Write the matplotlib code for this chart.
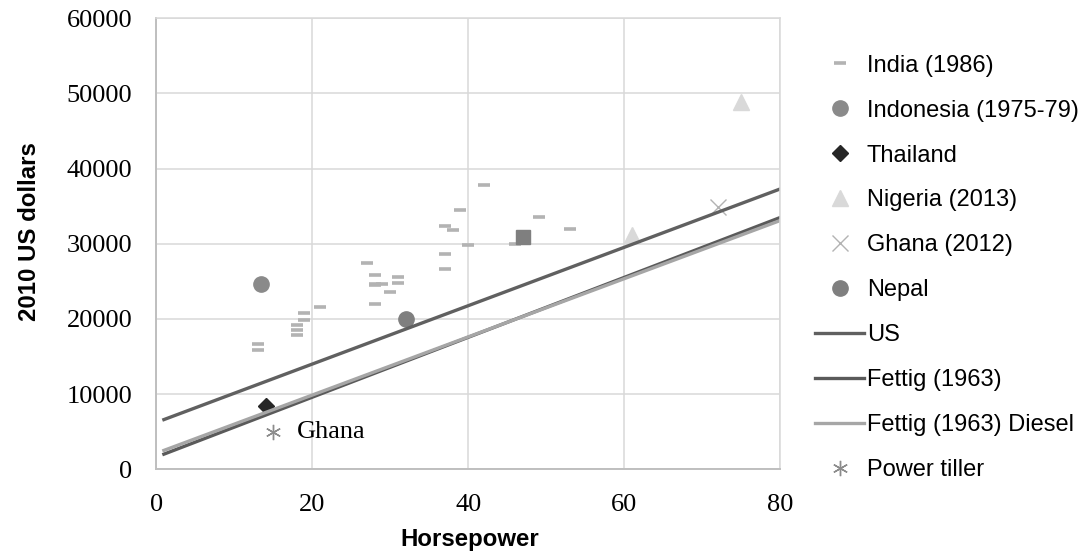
import matplotlib
matplotlib.use("Agg")
import matplotlib.pyplot as plt

# India (1986) survey points: horsepower, 2010 US dollars
india_hp = [13, 13, 18, 18, 18, 19, 19, 21, 28, 28, 28, 28, 29, 30, 31, 31,
            27, 37, 37, 37, 38, 39, 40, 42, 46, 49, 53]
india_usd = [16600, 15800, 19200, 18500, 17900, 20800, 19800, 21600, 25800, 24700,
             24500, 22000, 24600, 23600, 25600, 24800, 27400, 32400, 28600, 26600,
             31800, 34500, 29800, 37800, 29900, 33600, 31900]

indonesia_hp = [13.5]
indonesia_usd = [24700]

thailand_hp = [14.1]
thailand_usd = [8400]

nigeria_hp = [61, 75]
nigeria_usd = [31100, 48900]

ghana_hp = [72]
ghana_usd = [34900]

nepal_hp = [32]
nepal_usd = [20000]

other_hp = [47]
other_usd = [30900]

# trend lines (end points)
line_hp = [1, 80]
us_usd = [6600, 37300]
fettig_usd = [2000, 33500]
fettig_diesel_usd = [2500, 33100]

tiller_hp = [15]
tiller_usd = [4900]

serif = "Liberation Serif"
sans = "Liberation Sans"

fig = plt.figure(figsize=(10.84, 5.52), dpi=100)
ax = fig.add_axes([0.144, 0.150, 0.576, 0.817])

ax.plot(india_hp, india_usd, ls="none", marker="_", ms=8.5, mew=2.6,
        color="#b3b3b3", label="India (1986)")
ax.plot(indonesia_hp, indonesia_usd, ls="none", marker="o", ms=11,
        color="#8a8a8a", label="Indonesia (1975-79)")
ax.plot(thailand_hp, thailand_usd, ls="none", marker="D", ms=8,
        color="#262626", label="Thailand")
ax.plot(nigeria_hp, nigeria_usd, ls="none", marker="^", ms=11,
        color="#d9d9d9", label="Nigeria (2013)")
ax.plot(ghana_hp, ghana_usd, ls="none", marker="x", ms=11, mew=1,
        color="#b3b3b3", label="Ghana (2012)")
ax.plot(nepal_hp, nepal_usd, ls="none", marker="o", ms=11,
        color="#7f7f7f", label="Nepal")
ax.plot(other_hp, other_usd, ls="none", marker="s", ms=10,
        color="#7f7f7f")
ax.plot(line_hp, us_usd, color="#606060", lw=2.4, label="US")
ax.plot(line_hp, fettig_usd, color="#5a5a5a", lw=2.4, label="Fettig (1963)")
ax.plot(line_hp, fettig_diesel_usd, color="#a6a6a6", lw=2.4,
        label="Fettig (1963) Diesel")
ax.plot(tiller_hp, tiller_usd, ls="none", marker=(6, 2, 0), ms=11, mew=1,
        color="#8c8c8c", label="Power tiller")

ax.text(18, 4900, "Ghana", family=serif, fontsize=19, va="center", ha="left")

ax.set_xlim(0, 80)
ax.set_ylim(0, 60000)
ax.set_xticks([0, 20, 40, 60, 80])
ax.set_yticks(range(0, 60001, 10000))
ax.grid(True, color="#d9d9d9", lw=1.1)
ax.set_axisbelow(True)
ax.tick_params(axis="y", length=0, pad=17, labelsize=19)
ax.tick_params(axis="x", length=0, pad=18, labelsize=19)
for lab in ax.get_xticklabels() + ax.get_yticklabels():
    lab.set_family(serif)

for side in ["top", "right"]:
    ax.spines[side].set_color("#d9d9d9")
    ax.spines[side].set_linewidth(1.1)
for side in ["left", "bottom"]:
    ax.spines[side].set_color("#bfbfbf")
    ax.spines[side].set_linewidth(1.4)

ax.set_xlabel("Horsepower", family=sans, fontweight="bold", fontsize=17.3)
ax.set_ylabel("2010 US dollars", family=sans, fontweight="bold", fontsize=17.3)
ax.xaxis.set_label_coords(0.502, -0.13)
ax.yaxis.set_label_coords(-0.185, 0.527)

ax.legend(loc="upper left", bbox_to_anchor=(1.04, 0.94), frameon=False,
          prop={"family": sans, "size": 17}, handlelength=2.1,
          handletextpad=0.1, labelspacing=0.97, borderaxespad=0)

fig.savefig("out.png", dpi=100)
